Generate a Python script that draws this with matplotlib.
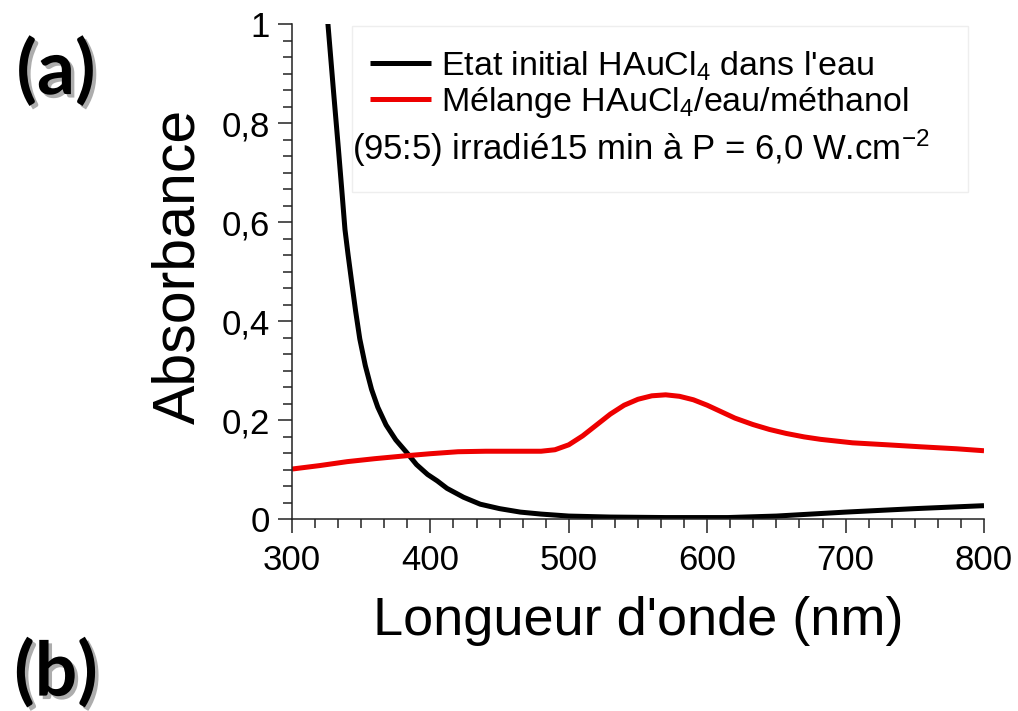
import numpy as np
import matplotlib
matplotlib.use("Agg")
import matplotlib.pyplot as plt
from matplotlib.ticker import AutoMinorLocator, FuncFormatter
from matplotlib.patches import Rectangle
import matplotlib.patheffects as pe

plt.rcParams['font.family'] = ['Liberation Sans', 'DejaVu Sans']
plt.rcParams['mathtext.default'] = 'regular'

# Black curve: initial HAuCl4 in water
wl_black = [324, 326, 330, 333.5, 336, 338.3, 340.5, 343, 346, 349, 353, 357.5,
            362, 368, 375, 383, 390, 398, 405, 412, 424, 436, 450, 465, 480,
            500, 530, 570, 615, 650, 700, 750, 800]
abs_black = [1.07, 1.0, 0.865, 0.75, 0.665, 0.585, 0.535, 0.482, 0.42, 0.364,
             0.31, 0.262, 0.226, 0.19, 0.16, 0.134, 0.11, 0.09, 0.077, 0.062,
             0.044, 0.03, 0.021, 0.014, 0.010, 0.006, 0.004, 0.003, 0.003, 0.006,
             0.014, 0.021, 0.027]

# Red curve: irradiated mixture
wl_red = [300, 320, 340, 360, 383, 400, 420, 440, 460, 480, 490, 500, 510, 520,
          530, 540, 550, 560, 570, 580, 590, 600, 610, 620, 633, 645, 657, 670,
          682, 705, 730, 754, 780, 800]
abs_red = [0.101, 0.108, 0.116, 0.122, 0.128, 0.132, 0.136, 0.137, 0.137, 0.137,
           0.140, 0.150, 0.168, 0.190, 0.212, 0.230, 0.242, 0.249, 0.251, 0.248,
           0.241, 0.230, 0.217, 0.204, 0.191, 0.181, 0.173, 0.166, 0.161, 0.154,
           0.150, 0.146, 0.142, 0.138]

x_ticks = [300, 400, 500, 600, 700, 800]
y_ticks = [0, 0.2, 0.4, 0.6, 0.8, 1.0]

fig = plt.figure(figsize=(10.18, 7.11), dpi=100)
ax = fig.add_axes([0.2868, 0.270, 0.6798, 0.696])

l1, = ax.plot(wl_black, abs_black, color='black', lw=3.6, solid_capstyle='butt',
              label="Etat initial HAuCl$_4$ dans l'eau")
l2, = ax.plot(wl_red, abs_red, color='#ee0000', lw=3.6, solid_capstyle='butt',
              label="Mélange HAuCl$_4$/eau/méthanol")

ax.set_xlim(300, 800)
ax.set_ylim(0, 1)
ax.set_xticks(x_ticks)
ax.set_yticks(y_ticks)
ax.xaxis.set_minor_locator(AutoMinorLocator(6))
ax.yaxis.set_minor_locator(AutoMinorLocator(6))
ax.yaxis.set_major_formatter(FuncFormatter(lambda v, p: ('%g' % round(v, 1)).replace('.', ',')))

for s in ['top', 'right']:
    ax.spines[s].set_visible(False)
for s in ['left', 'bottom']:
    ax.spines[s].set_linewidth(1.1)
    ax.spines[s].set_color('#222222')

ax.tick_params(which='major', direction='out', length=10, width=1.1, labelsize=25,
               color='#222222')
ax.tick_params(which='minor', direction='out', length=6.5, width=1.1, color='#222222')
ax.tick_params(axis='x', which='major', pad=8)
ax.tick_params(axis='y', which='major', pad=6)

ax.set_xlabel("Longueur d'onde (nm)", fontsize=39, labelpad=14)
ax.set_ylabel("Absorbance", fontsize=42.5)
ax.yaxis.set_label_coords(-0.123, 0.511)

leg = ax.legend(handles=[l1, l2], loc='upper left', bbox_to_anchor=(0.093, 0.977),
                frameon=False, fontsize=24.5, handlelength=1.8, handletextpad=0.3,
                labelspacing=0.08, borderaxespad=0)
ax.text(0.087, 0.749, "(95:5) irradié15 min à P = 6,0 W.cm$^{-2}$", transform=ax.transAxes,
        fontsize=25, va='center', ha='left')
ax.add_patch(Rectangle((0.087, 0.661), 0.89, 0.335, transform=ax.transAxes,
                       facecolor='none', edgecolor='#eeeeee', lw=1.0, zorder=0))

shadow = [pe.withSimplePatchShadow(offset=(2.5, -2.5), shadow_rgbFace='#777777', alpha=0.6)]
fig.text(0.055, 0.899, "(a)", fontsize=54, fontweight='bold', family='Lato',
         ha='center', va='center', path_effects=shadow)
fig.text(0.055, 0.053, "(b)", fontsize=54, fontweight='bold', family='Lato',
         ha='center', va='center', path_effects=shadow)

fig.savefig('out.png', dpi=100)
